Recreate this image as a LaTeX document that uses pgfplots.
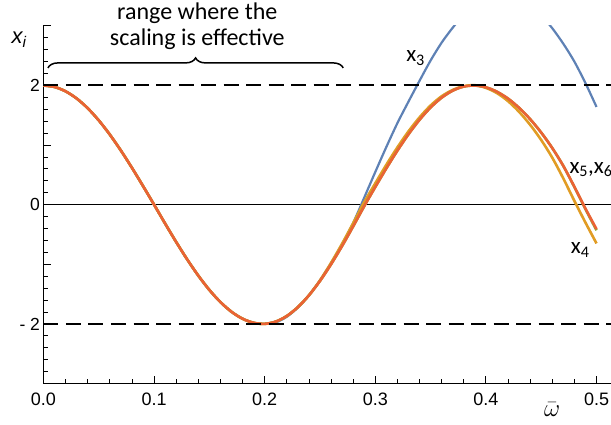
\documentclass[border=0pt]{standalone}
\usepackage{pgfplots}
\usepackage{pgfplotstable}
\pgfplotsset{compat=1.18}
\usepackage{fontspec}
\setmainfont{Liberation Sans}
\newfontfamily\calibri{Carlito}
\usetikzlibrary{decorations.pathreplacing}
\definecolor{mblue}{HTML}{5E81B5}
\definecolor{morange}{HTML}{E19C24}
\definecolor{mgreen}{HTML}{8FB032}
\definecolor{mred}{HTML}{EB6235}

\pgfplotstableread{
w     x3      x4      x5      x6
0.00  2.0000  2.0000  2.0000  2.0000
0.01  1.9754  1.9754  1.9754  1.9754
0.02  1.9021  1.9021  1.9021  1.9021
0.03  1.7820  1.7820  1.7820  1.7820
0.04  1.6180  1.6180  1.6180  1.6180
0.05  1.4142  1.4142  1.4142  1.4142
0.06  1.1756  1.1756  1.1756  1.1756
0.07  0.9080  0.9080  0.9080  0.9080
0.08  0.6180  0.6180  0.6180  0.6180
0.09  0.3129  0.3129  0.3129  0.3129
0.10  0.0000  0.0000  0.0000  0.0000
0.11 -0.3176 -0.3176 -0.3176 -0.3176
0.12 -0.6271 -0.6271 -0.6271 -0.6271
0.13 -0.9207 -0.9207 -0.9207 -0.9207
0.14 -1.1910 -1.1910 -1.1910 -1.1910
0.15 -1.4311 -1.4311 -1.4311 -1.4311
0.16 -1.6349 -1.6349 -1.6349 -1.6349
0.17 -1.7972 -1.7972 -1.7972 -1.7972
0.18 -1.9136 -1.9136 -1.9136 -1.9136
0.19 -1.9817 -1.9817 -1.9817 -1.9817
0.20 -2.0000 -1.9993 -1.9993 -1.9993
0.21 -1.9750 -1.9617 -1.9617 -1.9617
0.22 -1.8800 -1.8673 -1.8673 -1.8673
0.23 -1.7250 -1.7188 -1.7188 -1.7188
0.24 -1.5200 -1.5205 -1.5205 -1.5205
0.25 -1.2700 -1.2680 -1.2785 -1.2785
0.26 -0.9800 -0.9750 -0.9991 -0.9991
0.27 -0.6600 -0.6530 -0.6912 -0.6912
0.28 -0.3050 -0.3090 -0.3626 -0.3626
0.29  0.1200  0.0436 -0.0238 -0.0238
0.30  0.5500  0.3600  0.2982  0.2982
0.31  0.9700  0.6710  0.6113  0.6113
0.32  1.3700  0.9630  0.9086  0.9086
0.33  1.7300  1.2310  1.1822  1.1822
0.34  2.0800  1.4660  1.4253  1.4253
0.35  2.4200  1.6650  1.6321  1.6321
0.36  2.7200  1.8200  1.7963  1.7963
0.37  2.9700  1.9270  1.9139  1.9139
0.38  3.1900  1.9880  1.9823  1.9823
0.39  3.3400  2.0050  1.9990  1.9990
0.40  3.4400  1.9600  1.9700  1.9700
0.41  3.4900  1.8720  1.8950  1.8950
0.42  3.4900  1.7370  1.7800  1.7800
0.43  3.4400  1.5580  1.6250  1.6250
0.44  3.3400  1.3400  1.4350  1.4350
0.45  3.1800  1.0850  1.2100  1.2100
0.46  2.9600  0.7880  0.9500  0.9500
0.47  2.7000  0.4400  0.6500  0.6500
0.48  2.4000  0.0630  0.2950  0.3000
0.49  2.0400 -0.3000 -0.0750 -0.0650
0.50  1.6400 -0.6500 -0.4300 -0.4100
}\data

\begin{document}
\begin{tikzpicture}
\begin{axis}[
  at={(0pt,0pt)}, anchor=south west,
  scale only axis, width=567.4pt, height=357.6pt,
  xmin=0, xmax=0.513, ymin=-3, ymax=3,
  axis lines*=left,
  axis line style={line width=1.4pt},
  clip mode=individual,
  tick align=inside,
  major tick length=7pt, minor tick length=4pt,
  tick style={black, line width=0.9pt},
  xtick={0,0.1,0.2,0.3,0.4,0.5},
  xticklabels={0.0,0.1,0.2,0.3,0.4,0.5},
  minor x tick num=4,
  ytick={-3,-2,-1,0,1,2,3},
  yticklabels={,{- 2},,0,,2,},
  minor y tick num=4,
  xticklabel style={font=\fontsize{18}{18}\selectfont, yshift=-6pt},
  yticklabel style={font=\fontsize{17.5}{17.5}\selectfont},
]
\draw[line width=0.9pt] (axis cs:0,0) -- (axis cs:0.513,0);
\addplot[mblue, line width=2.2pt, smooth] table[x=w,y=x3]{\data};
\addplot[morange, line width=2.6pt, smooth] table[x=w,y=x4]{\data};
\addplot[mgreen, line width=2.6pt, smooth] table[x=w,y=x5]{\data};
\addplot[mred, line width=2.6pt, smooth] table[x=w,y=x6]{\data};
\draw[line width=1.7pt, dash pattern=on 15pt off 7.5pt] (axis cs:0,2.003) -- (axis cs:0.513,2.003);
\draw[line width=1.7pt, dash pattern=on 15pt off 7.5pt] (axis cs:0,-2) -- (axis cs:0.513,-2);
\draw[decorate, decoration={brace, amplitude=10pt}, line width=1.5pt] (axis cs:0.004,2.295) -- (axis cs:0.271,2.295);
\node[font=\calibri\fontsize{24}{26}\selectfont, align=center] at (axis cs:0.139,3.0) {range where the\\scaling is effective};
\node[font=\fontsize{22}{22}\selectfont\itshape] at (axis cs:-0.022,2.765) {x\textsubscript{i}};
\node[inner sep=0pt] at (axis cs:0.4598,-3.44) {\fontsize{23}{23}\selectfont$\bar{\omega}$};
\node[anchor=base west, inner sep=0pt, font=\calibri\fontsize{23}{23}\selectfont] at (axis cs:0.3278,2.40) {x\textsubscript{3}};
\node[anchor=base west, inner sep=0pt, font=\calibri\fontsize{23}{23}\selectfont] at (axis cs:0.4754,0.53) {x\textsubscript{5},x\textsubscript{6}};
\node[anchor=base west, inner sep=0pt, font=\calibri\fontsize{23}{23}\selectfont] at (axis cs:0.4767,-0.815) {x\textsubscript{4}};
\end{axis}
\pgfresetboundingbox
\path (-43.5pt,-41.5pt) rectangle (567.5pt,383.5pt);
\end{tikzpicture}
\end{document}
